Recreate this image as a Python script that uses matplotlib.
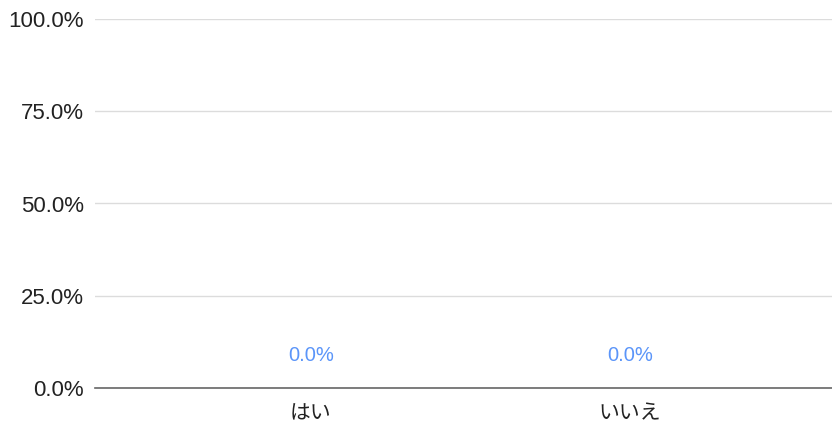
import matplotlib
matplotlib.use("Agg")
import matplotlib.pyplot as plt
from matplotlib.ticker import FuncFormatter

categories = ["はい", "いいえ"]
values = [0.0, 0.0]
yticks = [0, 25, 50, 75, 100]

plt.rcParams['font.family'] = ['Liberation Sans', 'Noto Sans CJK JP', 'DejaVu Sans']

fig = plt.figure(figsize=(8.32, 4.23), dpi=100)
ax = fig.add_axes([95/832, 1 - 388/423, (832-95)/832, (388-19)/423])

x = list(range(len(categories)))
ax.bar(x, values, width=0.6, color="#4285f4")
for xi, v in zip(x, values):
    ax.annotate(f"{v:.1f}%", (xi, v), xytext=(0, 33), textcoords="offset pixels",
                ha="center", va="center", color="#5b95f9", fontsize=14.5)

ax.set_ylim(0, 100)
ax.set_xlim(-0.677, 1.633)
ax.set_yticks(yticks)
ax.yaxis.set_major_formatter(FuncFormatter(lambda v, p: f"{v:.1f}%"))
ax.set_xticks(x)
ax.set_xticklabels(categories, fontfamily=['Noto Sans CJK JP', 'DejaVu Sans'], fontsize=15)
ax.grid(axis="y", color="#dcdcdc", linewidth=1)
ax.set_axisbelow(True)
for s in ["top", "right", "left"]:
    ax.spines[s].set_visible(False)
ax.spines["bottom"].set_color("#666666")
ax.spines["bottom"].set_linewidth(1.2)
ax.tick_params(axis="y", length=0, labelsize=16, colors="#222222", pad=8)
ax.tick_params(axis="x", length=0, colors="#222222", pad=10.5)

fig.savefig("out.png", dpi=100)
